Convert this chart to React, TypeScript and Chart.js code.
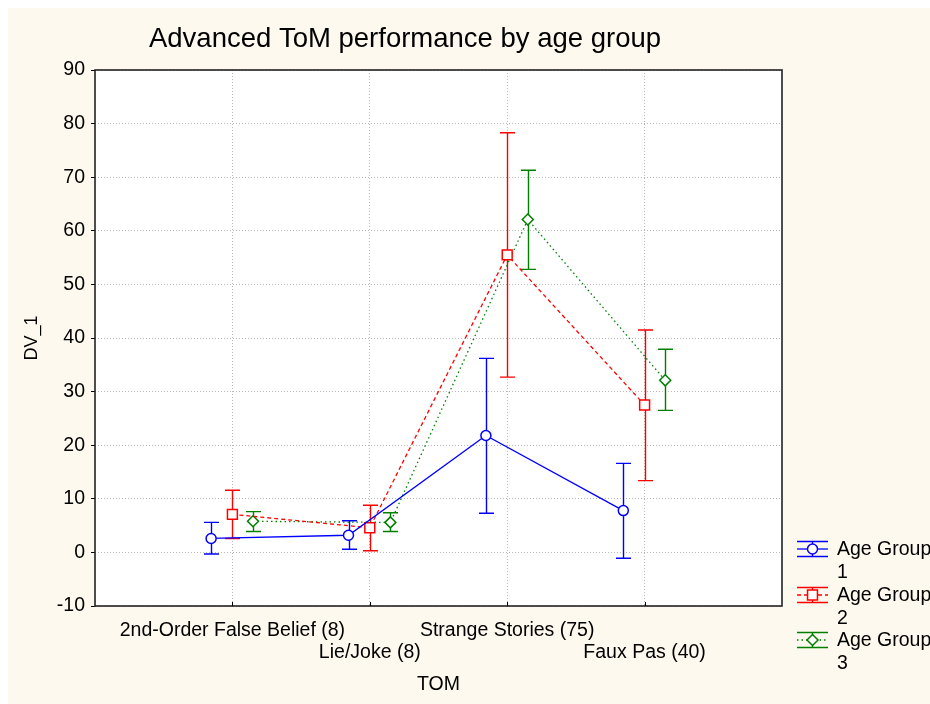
import React, { useEffect, useRef } from 'react';
import { Chart, registerables } from 'chart.js';

Chart.register(...registerables);

const categories = ['2nd-Order False Belief (8)', 'Lie/Joke (8)', 'Strange Stories (75)', 'Faux Pas (40)'];

const group1Mean = [2.6, 3.2, 21.8, 7.8];
const group1Low = [-0.3, 0.6, 7.3, -1.1];
const group1High = [5.6, 5.9, 36.2, 16.6];

const group2Mean = [7.1, 4.6, 55.5, 27.5];
const group2Low = [2.6, 0.3, 32.7, 13.4];
const group2High = [11.6, 8.8, 78.3, 41.5];

const group3Mean = [5.8, 5.6, 62.1, 32.1];
const group3Low = [3.9, 3.9, 52.8, 26.5];
const group3High = [7.6, 7.4, 71.3, 37.9];

const groupLabels = ['Age Group 1', 'Age Group 2', 'Age Group 3'];
const yTicks = { min: -10, max: 90, step: 10 };

const TITLE = 'Advanced ToM performance by age group';
const FONT = "'Liberation Sans', Arial, Helvetica, sans-serif";

export default function App() {
  const ref = useRef<HTMLCanvasElement>(null);

  useEffect(() => {
    if (!ref.current) return;
    const groups = [
      { label: groupLabels[0], mean: group1Mean, low: group1Low, high: group1High, color: '#0000ff', dash: [] as number[], style: 'circle', radius: 5, offset: -0.155 },
      { label: groupLabels[1], mean: group2Mean, low: group2Low, high: group2High, color: '#ff0000', dash: [4, 3], style: 'rect', radius: 7, offset: 0 },
      { label: groupLabels[2], mean: group3Mean, low: group3Low, high: group3High, color: '#008000', dash: [1.5, 3], style: 'rectRot', radius: 5.5, offset: 0.15 },
    ];

    const datasets = groups.map((g) => ({
      type: 'line' as const,
      label: g.label,
      data: g.mean.map((v, i) => ({ x: i + 1 + g.offset, y: v })),
      borderColor: g.color,
      borderWidth: 1.3,
      borderDash: g.dash,
      pointStyle: g.style,
      pointRadius: g.radius,
      pointBorderColor: g.color,
      pointBackgroundColor: '#ffffff',
      pointBorderWidth: 1.5,
      tension: 0,
      fill: false,
    }));

    const drawMarker = (ctx: CanvasRenderingContext2D, style: string, x: number, y: number, r: number, color: string) => {
      ctx.save();
      ctx.setLineDash([]);
      ctx.beginPath();
      if (style === 'circle') {
        ctx.arc(x, y, r, 0, Math.PI * 2);
      } else if (style === 'rect') {
        const s = Math.SQRT1_2 * r;
        ctx.rect(x - s, y - s, 2 * s, 2 * s);
      } else {
        ctx.moveTo(x - r, y);
        ctx.lineTo(x, y - r);
        ctx.lineTo(x + r, y);
        ctx.lineTo(x, y + r);
        ctx.closePath();
      }
      ctx.fillStyle = '#ffffff';
      ctx.fill();
      ctx.strokeStyle = color;
      ctx.lineWidth = 1.5;
      ctx.stroke();
      ctx.restore();
    };

    const plotBg = {
      id: 'plotBg',
      beforeDraw(chart: any) {
        const ctx = chart.ctx;
        const a = chart.chartArea;
        ctx.save();
        ctx.fillStyle = '#ffffff';
        ctx.fillRect(a.left, a.top, a.right - a.left, a.bottom - a.top);
        ctx.restore();
      },
    };

    const errorBars = {
      id: 'errorBars',
      beforeDatasetsDraw(chart: any) {
        const ctx = chart.ctx;
        const xs = chart.scales.x;
        const ys = chart.scales.y;
        ctx.save();
        ctx.setLineDash([]);
        ctx.lineWidth = 1.4;
        groups.forEach((g) => {
          ctx.strokeStyle = g.color;
          g.mean.forEach((_, i) => {
            const px = Math.round(xs.getPixelForValue(i + 1 + g.offset)) + 0.5;
            const yl = ys.getPixelForValue(g.low[i]);
            const yh = ys.getPixelForValue(g.high[i]);
            ctx.beginPath();
            ctx.moveTo(px, yl);
            ctx.lineTo(px, yh);
            ctx.moveTo(px - 7.5, yl);
            ctx.lineTo(px + 7.5, yl);
            ctx.moveTo(px - 7.5, yh);
            ctx.lineTo(px + 7.5, yh);
            ctx.stroke();
          });
        });
        ctx.restore();
      },
    };

    const decor = {
      id: 'decor',
      afterDraw(chart: any) {
        const ctx = chart.ctx;
        const a = chart.chartArea;
        const xs = chart.scales.x;
        ctx.save();
        ctx.setLineDash([]);
        // frame
        ctx.strokeStyle = '#222222';
        ctx.lineWidth = 1.6;
        ctx.strokeRect(Math.round(a.left), Math.round(a.top), Math.round(a.right - a.left), Math.round(a.bottom - a.top));
        // inner x tick marks
        ctx.lineWidth = 1;
        ctx.strokeStyle = '#000000';
        ctx.beginPath();
        categories.forEach((_, i) => {
          const px = Math.round(xs.getPixelForValue(i + 1)) + 0.5;
          ctx.moveTo(px, a.bottom);
          ctx.lineTo(px, a.bottom - 4);
        });
        ctx.stroke();
        // title
        ctx.fillStyle = '#000000';
        ctx.font = `27.5px ${FONT}`;
        ctx.textAlign = 'center';
        ctx.textBaseline = 'middle';
        ctx.fillText(TITLE, 397, 31);
        // legend
        const lx0 = 789;
        const lx1 = 820;
        const lcx = (lx0 + lx1) / 2;
        const centers = [541, 587, 632];
        groups.forEach((g, k) => {
          const cy = centers[k];
          ctx.strokeStyle = g.color;
          ctx.lineWidth = 1.4;
          ctx.setLineDash([]);
          ctx.beginPath();
          ctx.moveTo(lx0, cy - 7.5);
          ctx.lineTo(lx1, cy - 7.5);
          ctx.moveTo(lx0, cy + 7.5);
          ctx.lineTo(lx1, cy + 7.5);
          ctx.moveTo(lcx, cy - 7.5);
          ctx.lineTo(lcx, cy + 7.5);
          ctx.stroke();
          ctx.setLineDash(g.dash);
          ctx.lineWidth = 1.3;
          ctx.beginPath();
          ctx.moveTo(lx0, cy);
          ctx.lineTo(lx1, cy);
          ctx.stroke();
          drawMarker(ctx, g.style, lcx, cy, g.radius, g.color);
          const parts = g.label.split(' ');
          const num = parts.pop() as string;
          ctx.fillStyle = '#000000';
          ctx.font = `19.5px ${FONT}`;
          ctx.textAlign = 'left';
          ctx.textBaseline = 'middle';
          ctx.fillText(parts.join(' '), 829, cy + 1);
          ctx.fillText(num, 829, cy + 24);
        });
        ctx.restore();
      },
    };

    const tickFont = { family: FONT, size: 19.5, lineHeight: 1.13 };

    const chart = new Chart(ref.current, {
      type: 'line',
      data: { datasets: datasets as any },
      options: {
        animation: false,
        responsive: false,
        layout: { padding: { top: 62, right: 148, left: 0, bottom: 0 } },
        plugins: {
          legend: { display: false },
          tooltip: { enabled: false },
          title: { display: false },
        },
        scales: {
          x: {
            type: 'linear',
            min: 0,
            max: categories.length + 1,
            afterFit: (s: any) => {
              s.height = 98;
            },
            ticks: {
              stepSize: 1,
              autoSkip: false,
              maxRotation: 0,
              minRotation: 0,
              color: '#000000',
              font: tickFont,
              padding: 14,
              callback: (v: any) => {
                const i = Math.round(Number(v)) - 1;
                if (i < 0 || i >= categories.length) return '';
                return i % 2 === 0 ? categories[i] : ['', categories[i]];
              },
            },
            grid: {
              color: (c: any) => (c.tick && (c.tick.value === 0 || c.tick.value === categories.length + 1) ? 'rgba(0,0,0,0)' : '#b8b8b8'),
              drawTicks: false,
              lineWidth: 1,
            },
            border: { display: false, dash: [1, 2] },
            title: {
              display: true,
              text: 'TOM',
              color: '#000000',
              font: { family: FONT, size: 19.5, lineHeight: 1.2 },
              padding: { top: 0, bottom: 8 },
            },
          },
          y: {
            min: yTicks.min,
            max: yTicks.max,
            afterFit: (s: any) => {
              s.width = 87;
            },
            ticks: {
              stepSize: yTicks.step,
              color: '#000000',
              font: tickFont,
              padding: 6,
            },
            grid: {
              color: '#b8b8b8',
              tickColor: '#000000',
              tickLength: 4,
              tickBorderDash: [],
              drawTicks: true,
              lineWidth: 1,
            },
            border: { display: false, dash: [1, 2] },
            title: {
              display: true,
              text: 'DV_1',
              color: '#000000',
              font: { family: FONT, size: 18, lineHeight: 1.2 },
              padding: { top: 13, bottom: 0 },
            },
          },
        },
      },
      plugins: [plotBg, errorBars, decor],
    } as any);

    return () => chart.destroy();
  }, []);

  return (
    <div style={{ position: 'absolute', left: 8, top: 8, width: 922, height: 696, background: '#fdf9ee', overflow: 'hidden' }}>
      <canvas ref={ref} width={922} height={696} style={{ display: 'block', width: 922, height: 696 }} />
    </div>
  );
}
